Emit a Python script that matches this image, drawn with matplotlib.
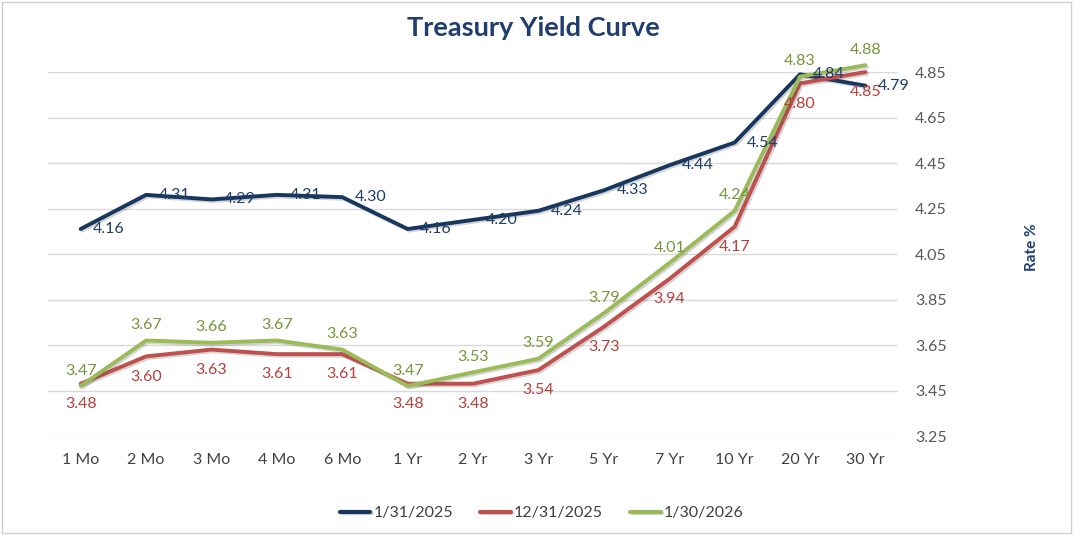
import matplotlib
matplotlib.use("Agg")
import matplotlib.pyplot as plt
import matplotlib.patheffects as pe
from matplotlib.patches import Rectangle

# data
maturities = ["1 Mo", "2 Mo", "3 Mo", "4 Mo", "6 Mo", "1 Yr", "2 Yr",
              "3 Yr", "5 Yr", "7 Yr", "10 Yr", "20 Yr", "30 Yr"]
yields_2025_01 = [4.16, 4.31, 4.29, 4.31, 4.30, 4.16, 4.20, 4.24, 4.33, 4.44, 4.54, 4.84, 4.79]
yields_2025_12 = [3.48, 3.60, 3.63, 3.61, 3.61, 3.48, 3.48, 3.54, 3.73, 3.94, 4.17, 4.80, 4.85]
yields_2026_01 = [3.47, 3.67, 3.66, 3.67, 3.63, 3.47, 3.53, 3.59, 3.79, 4.01, 4.24, 4.83, 4.88]
series_names = ["1/31/2025", "12/31/2025", "1/30/2026"]
y_ticks = [3.25, 3.45, 3.65, 3.85, 4.05, 4.25, 4.45, 4.65, 4.85]

plt.rcParams['font.family'] = ['Lato', 'DejaVu Sans']

dpi = 100
fig = plt.figure(figsize=(1073 / dpi, 535 / dpi), dpi=dpi)
ax = fig.add_axes([0.0447, 0.185, 0.7923, 0.6804])

x = list(range(len(maturities)))
shadow = [pe.SimpleLineShadow(offset=(1.2, -1.2), alpha=0.25, shadow_color='#555555'),
          pe.Normal()]

# (values, line colour, label colour, label offset in points, alignment)
series = [
    (yields_2025_01, '#17375E', '#1F3D66', (9, 0), ('left', 'center')),
    (yields_2025_12, '#C0504D', '#B5403D', (0, -9.5), ('center', 'top')),
    (yields_2026_01, '#9BBB59', '#77963A', (0, 6), ('center', 'bottom')),
]

for (vals, lc, tc, off, (ha, va)), name in zip(series, series_names):
    ax.plot(x, vals, color=lc, lw=2.8, label=name, clip_on=False,
            solid_capstyle='round', path_effects=shadow, zorder=3)
    for xi, v in zip(x, vals):
        ax.annotate("%.2f" % v, (xi, v), xytext=off, textcoords='offset points',
                    ha=ha, va=va, color=tc, fontsize=11.5, zorder=4,
                    annotation_clip=False)

ax.set_xlim(-0.5, len(maturities) - 0.5)
ax.set_ylim(3.25, 4.85)
ax.set_yticks(y_ticks)
ax.set_yticklabels(["%.2f" % t for t in y_ticks])
ax.yaxis.tick_right()
ax.set_xticks(x)
ax.set_xticklabels(maturities)
ax.tick_params(axis='y', length=0, pad=12, labelsize=11.5, labelcolor='#595959')
ax.tick_params(axis='x', length=0, pad=12, labelsize=11.5, labelcolor='#404040')
ax.grid(axis='y', color='#D9D9D9', lw=1)
ax.set_axisbelow(True)
for s in ax.spines.values():
    s.set_visible(False)

fig.text(0.497, 1 - 28 / 535, "Treasury Yield Curve", ha='center', va='center',
         fontsize=19.5, fontweight='bold', color='#1F3D6E')
fig.text(1032 / 1073, 1 - 247 / 535, "Rate %", rotation=90, ha='center', va='center',
         fontsize=11, fontweight='bold', color='#1F3D6E')

leg = fig.legend(loc='center', bbox_to_anchor=(0.505, 0.041), ncol=3, frameon=False,
                 fontsize=11.5, handlelength=1.9, handletextpad=0.2, columnspacing=1.7)
for line in leg.get_lines():
    line.set_linewidth(3)
for t in leg.get_texts():
    t.set_color('#404040')

# thin border around the whole chart
fig.patches.append(Rectangle((0.002, 0.004), 0.996, 0.992, transform=fig.transFigure,
                             fill=False, edgecolor='#D0D0D0', lw=1))

fig.savefig("out.png", dpi=dpi)
